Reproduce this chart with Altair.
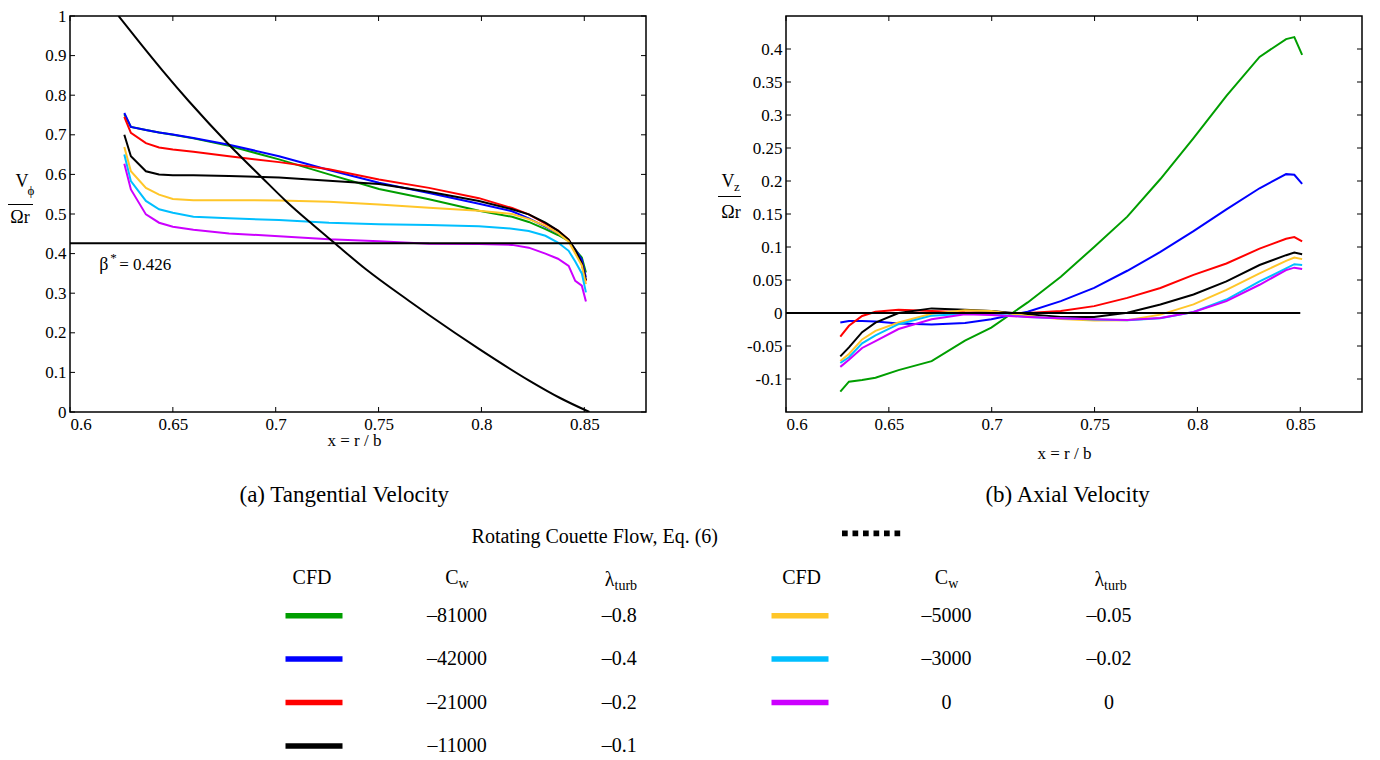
import altair as alt
import pandas as pd

SERIF = "Liberation Serif"

# ---------------- data ----------------
series = ["-81000", "-42000", "-21000", "-11000", "-5000", "-3000", "0"]
colors = ["#009e00", "#0000ff", "#ff0000", "#000000", "#ffc629", "#00bfff", "#cc00ff"]
cw_labels = ["–81000", "–42000", "–21000", "–11000", "–5000", "–3000", "0"]
lam_labels = ["–0.8", "–0.4", "–0.2", "–0.1", "–0.05", "–0.02", "0"]
legend_group = [0, 0, 0, 0, 1, 1, 1]
legend_row = [0, 1, 2, 3, 0, 1, 2]

# (a) tangential velocity  V_phi / (Omega r)
x_tan = [0.6264, 0.6296, 0.6369, 0.6433, 0.65, 0.66, 0.6773, 0.7016, 0.7259, 0.7502,
         0.7745, 0.7988, 0.8149, 0.823, 0.8311, 0.8372, 0.8424, 0.8456, 0.8488, 0.8508]
vt_81000 = [0.752, 0.720, 0.712, 0.706, 0.700, 0.691, 0.672, 0.638, 0.600, 0.563,
            0.537, 0.508, 0.493, 0.480, 0.462, 0.447, 0.432, 0.410, 0.390, 0.352]
vt_42000 = [0.755, 0.720, 0.712, 0.706, 0.701, 0.692, 0.675, 0.646, 0.611, 0.579,
            0.553, 0.526, 0.507, 0.489, 0.468, 0.452, 0.433, 0.410, 0.385, 0.340]
vt_21000 = [0.745, 0.705, 0.679, 0.668, 0.663, 0.657, 0.646, 0.631, 0.613, 0.587,
            0.566, 0.540, 0.515, 0.499, 0.476, 0.458, 0.435, 0.405, 0.375, 0.330]
vt_11000 = [0.700, 0.646, 0.608, 0.600, 0.598, 0.598, 0.596, 0.592, 0.584, 0.576,
            0.556, 0.533, 0.512, 0.499, 0.478, 0.458, 0.435, 0.410, 0.375, 0.333]
vt_5000 = [0.669, 0.608, 0.566, 0.549, 0.538, 0.535, 0.535, 0.534, 0.531, 0.524,
           0.516, 0.508, 0.500, 0.487, 0.470, 0.452, 0.430, 0.400, 0.370, 0.323]
vt_3000 = [0.650, 0.583, 0.533, 0.512, 0.503, 0.493, 0.489, 0.485, 0.478, 0.474,
           0.472, 0.469, 0.463, 0.457, 0.445, 0.428, 0.407, 0.380, 0.350, 0.302]
vt_0 = [0.627, 0.562, 0.499, 0.478, 0.468, 0.460, 0.451, 0.444, 0.436, 0.431,
        0.425, 0.424, 0.422, 0.415, 0.400, 0.387, 0.369, 0.331, 0.319, 0.279]

# rotating Couette flow, Eq. (6)
x_cou = [0.6236, 0.6340, 0.6450, 0.6579, 0.6773, 0.6935, 0.7049, 0.7178, 0.7283, 0.7437,
         0.7647, 0.7745, 0.7988, 0.8230, 0.8380, 0.8525]
v_cou = [1.0, 0.932, 0.862, 0.784, 0.675, 0.591, 0.533, 0.474, 0.428, 0.361,
         0.281, 0.245, 0.1595, 0.080, 0.036, 0.0]
beta_star = 0.426

# (b) axial velocity  V_z / (Omega r)
x_ax = [0.6264, 0.6306, 0.637, 0.6435, 0.6547, 0.6708, 0.687, 0.6998, 0.7175, 0.7336,
        0.7498, 0.7659, 0.782, 0.7981, 0.8141, 0.8302, 0.8431, 0.8471, 0.8509]
va_81000 = [-0.119, -0.104, -0.1015, -0.098, -0.0866, -0.073, -0.042, -0.022, 0.016, 0.055,
            0.100, 0.146, 0.203, 0.265, 0.329, 0.388, 0.415, 0.418, 0.391]
va_42000 = [-0.0145, -0.012, -0.012, -0.013, -0.016, -0.0175, -0.015, -0.0095, 0.002, 0.018,
            0.038, 0.064, 0.0925, 0.124, 0.157, 0.189, 0.2104, 0.2094, 0.1955]
va_21000 = [-0.0358, -0.0194, -0.0045, 0.002, 0.005, 0.003, 0.001, 0.0005, 0.0, 0.003,
            0.0104, 0.0229, 0.0378, 0.0577, 0.075, 0.0975, 0.1124, 0.115, 0.1085]
va_11000 = [-0.0657, -0.052, -0.029, -0.0145, 0.0, 0.007, 0.005, 0.003, -0.002, -0.006,
            -0.006, 0.0005, 0.013, 0.028, 0.0478, 0.0727, 0.0876, 0.0915, 0.089]
va_5000 = [-0.0727, -0.062, -0.040, -0.027, -0.0145, -0.001, 0.004, 0.003, -0.0045, -0.009,
           -0.0115, -0.011, -0.0025, 0.013, 0.035, 0.060, 0.079, 0.084, 0.0816]
va_3000 = [-0.0757, -0.067, -0.046, -0.034, -0.017, -0.004, -0.001, -0.002, -0.006, -0.008,
           -0.010, -0.011, -0.008, 0.0015, 0.0204, 0.0478, 0.0676, 0.074, 0.0727]
va_0 = [-0.0816, -0.071, -0.053, -0.0425, -0.0243, -0.0095, -0.002, -0.003, -0.006, -0.008,
        -0.0095, -0.0105, -0.0075, 0.0015, 0.018, 0.0428, 0.065, 0.0687, 0.0667]
x_zero = [0.6, 0.85]
v_zero = [0.0, 0.0]

# ticks
x_ticks = [0.6, 0.65, 0.7, 0.75, 0.8, 0.85]
y_ticks_tan = [0, 0.1, 0.2, 0.3, 0.4, 0.5, 0.6, 0.7, 0.8, 0.9, 1]
y_ticks_ax = [-0.1, -0.05, 0, 0.05, 0.1, 0.15, 0.2, 0.25, 0.3, 0.35, 0.4]

# ---------------- frames ----------------
tan_list = [vt_81000, vt_42000, vt_21000, vt_11000, vt_5000, vt_3000, vt_0]
ax_list = [va_81000, va_42000, va_21000, va_11000, va_5000, va_3000, va_0]
tan_df = pd.DataFrame([{"x": x, "v": v, "series": s}
                       for s, vals in zip(series, tan_list) for x, v in zip(x_tan, vals)])
ax_df = pd.DataFrame([{"x": x, "v": v, "series": s}
                      for s, vals in zip(series, ax_list) for x, v in zip(x_ax, vals)])
cou_df = pd.DataFrame({"x": x_cou, "v": v_cou})
zero_df = pd.DataFrame({"x": x_zero, "v": v_zero})
beta_df = pd.DataFrame({"v": [beta_star]})
beta_lbl_df = pd.DataFrame({"x": [0.6142], "v": [0.371]})
xt_df = pd.DataFrame({"x": x_ticks})
one = pd.DataFrame({"a": [0]})
leg_df = pd.DataFrame({"series": series, "cw": cw_labels, "lam": lam_labels,
                       "grp": legend_group, "row": legend_row})
hdr_df = pd.DataFrame({"grp": [0, 1]})

W, H = 576, 396
color_scale = alt.Scale(domain=series, range=colors)
LAB = "'' + datum.value"


def txt(text, x, y, fs, align="center", **kw):
    return alt.Chart(one).mark_text(text=text, font=SERIF, fontSize=fs, align=align,
                                    baseline="middle", color="black", **kw).encode(
        x=alt.value(x), y=alt.value(y))


def panel(curves, ydom, yticks, title_pad, title_x, ytitle_parts, extra_layers):
    xscale = alt.Scale(domain=[0.6, 0.88], nice=False, zero=False)
    yscale = alt.Scale(domain=ydom, nice=False, zero=False)
    xaxis = alt.Axis(values=x_ticks, labelExpr=LAB, title="x = r / b",
                     labelPadding=4, titlePadding=title_pad, titleX=title_x)
    yaxis = alt.Axis(values=yticks, labelExpr=LAB, title=None, labelPadding=4)
    X = alt.X("x:Q", scale=xscale, axis=xaxis)
    Y = alt.Y("v:Q", scale=yscale, axis=yaxis)

    lines = alt.Chart(curves).mark_line(strokeWidth=2, clip=True).encode(
        x=X, y=Y, color=alt.Color("series:N", scale=color_scale, legend=None),
        detail="series:N")

    yt_df = pd.DataFrame({"v": yticks})
    tk = [
        alt.Chart(xt_df).mark_rule(color="black", strokeWidth=1).encode(
            x=X, y=alt.value(H), y2=alt.value(H - 5)),
        alt.Chart(xt_df).mark_rule(color="black", strokeWidth=1).encode(
            x=X, y=alt.value(0), y2=alt.value(5)),
        alt.Chart(yt_df).mark_rule(color="black", strokeWidth=1).encode(
            y=Y, x=alt.value(0), x2=alt.value(5)),
        alt.Chart(yt_df).mark_rule(color="black", strokeWidth=1).encode(
            y=Y, x=alt.value(W), x2=alt.value(W - 5)),
    ]

    (vx, vy, vfs), (sx, sy, stxt, sfs), (bx1, bx2, by), (ox, oy) = ytitle_parts
    ytitle = [
        txt("V", vx, vy, vfs),
        txt(stxt, sx, sy, sfs),
        alt.Chart(one).mark_rule(color="black", strokeWidth=1).encode(
            x=alt.value(bx1), x2=alt.value(bx2), y=alt.value(by)),
        txt("Ωr", ox, oy, vfs),
    ]
    layers = [lines] + [f(X, Y) for f in extra_layers] + tk + ytitle
    return layers


def couette_layer(X, Y):
    return alt.Chart(cou_df).mark_line(color="black", strokeWidth=2, clip=True,
                                       interpolate="monotone").encode(x=X, y=Y)


def beta_layer(X, Y):
    return alt.Chart(beta_df).mark_rule(color="black", strokeWidth=2).encode(y=Y)


def beta_text(X, Y):
    b = alt.Chart(beta_lbl_df)
    return alt.layer(
        b.mark_text(text="β", font=SERIF, fontSize=18, align="left", baseline="middle",
                    color="black").encode(x=X, y=Y),
        b.mark_text(text="*", font=SERIF, fontSize=13, align="left", baseline="middle",
                    dx=11, dy=-7, color="black").encode(x=X, y=Y),
        b.mark_text(text="= 0.426", font=SERIF, fontSize=17, align="left",
                    baseline="middle", dx=20, color="black").encode(x=X, y=Y),
    )


def zero_layer(X, Y):
    return alt.Chart(zero_df).mark_line(color="black", strokeWidth=2).encode(x=X, y=Y)


# ---------------- legend + captions (drawn in left panel frame) ----------------
YB = 399  # legend frame origin, measured from the top of the plot area
lb = alt.Chart(leg_df).transform_calculate(
    ry=f"{YB} + 200.7 + datum.row * 43.4",
    lx1="215.5 + datum.grp * 486",
    lx2="272.5 + datum.grp * 486",
    cx="387 + datum.grp * 489.6",
    mx="549.3 + datum.grp * 489.6",
)
leg_lines = lb.mark_rule(strokeWidth=5.5).encode(
    x=alt.X("lx1:Q", scale=None), x2="lx2:Q", y=alt.Y("ry:Q", scale=None),
    color=alt.Color("series:N", scale=color_scale, legend=None))
leg_cw = lb.mark_text(font=SERIF, fontSize=20, align="center", baseline="middle",
                      color="black").encode(
    x=alt.X("cx:Q", scale=None), y=alt.Y("ry:Q", scale=None), text="cw:N")
leg_lam = lb.mark_text(font=SERIF, fontSize=20, align="center", baseline="middle",
                       color="black").encode(
    x=alt.X("mx:Q", scale=None), y=alt.Y("ry:Q", scale=None), text="lam:N")

hb = alt.Chart(hdr_df).transform_calculate(
    hcfd="242 + datum.grp * 489.6",
    hc="388.6 + datum.grp * 489.6",
    hl="544.5 + datum.grp * 489.6",
    y0=f"{YB} + 163.3", y1=f"{YB} + 168.5", y2=f"{YB} + 165", y3=f"{YB} + 170.7")


def hdr(text, xf, yf, fs, align):
    return hb.mark_text(text=text, font=SERIF, fontSize=fs, align=align, baseline="middle",
                        color="black").encode(x=alt.X(xf + ":Q", scale=None),
                                              y=alt.Y(yf + ":Q", scale=None))


legend_layers = [
    txt("(a) Tangential Velocity", 274.3, YB + 80, 23),
    txt("(b) Axial Velocity", 997.6, YB + 80, 23),
    txt("Rotating Couette Flow, Eq. (6)", 524.8, YB + 121.7, 20),
    alt.Chart(one).mark_rule(color="black", strokeWidth=5.7, strokeDash=[5.7, 4.8]).encode(
        x=alt.value(772), x2=alt.value(830.5), y=alt.value(YB + 118.3)),
    leg_lines, leg_cw, leg_lam,
    hdr("CFD", "hcfd", "y0", 20, "center"),
    hdr("C", "hc", "y0", 20, "right"),
    hdr("w", "hc", "y1", 14, "left"),
    hdr("λ", "hl", "y2", 20, "right"),
    hdr("turb", "hl", "y3", 14, "left"),
]

left_layers = panel(tan_df, [0, 1], y_ticks_tan, 0, 284,
                    ((-48, 166, 18), (-39, 175, "ϕ", 13), (-62, -37, 188.5), (-50, 202)),
                    [couette_layer, beta_layer, beta_text])
right_layers = panel(ax_df, [-0.15, 0.45], y_ticks_ax, 13, 278,
                     ((-58, 166, 18), (-49, 171, "z", 13), (-68, -45, 180.5), (-55, 197)),
                     [zero_layer])

left = alt.layer(*(left_layers + legend_layers)).properties(width=W, height=H)
right = alt.layer(*right_layers).properties(width=W, height=H)

chart = alt.hconcat(left, right, spacing=140, bounds="flush").properties(
    padding={"top": -2, "left": -2, "right": 0, "bottom": 0}, background="white"
).configure_axis(
    labelFont=SERIF, labelFontSize=17, labelColor="black", titleFont=SERIF,
    titleFontSize=17, titleFontWeight="normal", titleColor="black",
    ticks=False, domain=False, grid=False
).configure_view(stroke="black", strokeWidth=1.5)

chart.save("out.html", embed_options={"renderer": "svg", "actions": False})
